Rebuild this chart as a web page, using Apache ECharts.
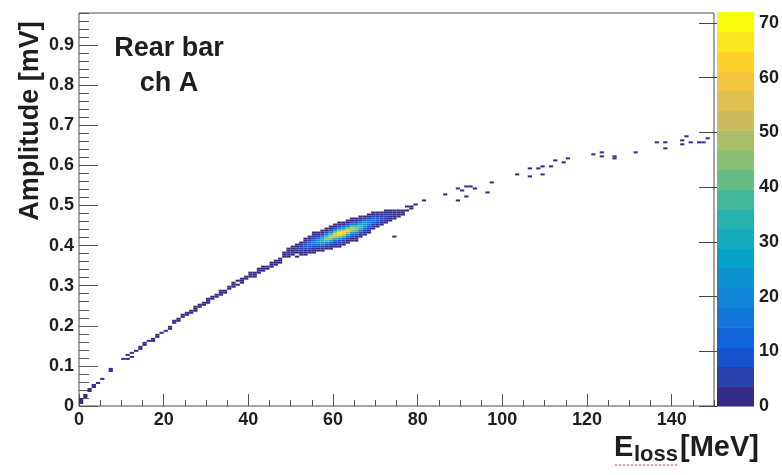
<!DOCTYPE html>
<html><head><meta charset="utf-8">
<script src="https://cdn.jsdelivr.net/npm/echarts@6/dist/echarts.min.js"></script>
<style>html,body{margin:0;padding:0;background:#fff}#c{width:782px;height:475px}</style>
</head><body><div id="c"></div>
<script>
// ---- axes ----
const X_MIN = 0, X_MAX = 150, X_MAJOR = 20, X_MINOR = 5;
const Y_MIN = 0, Y_MAX = 0.98, Y_MAJOR = 0.1, Y_MINOR = 0.02;
const Z_MAX = 72, N_CONTOURS = 20;
const zTickLabels = [0, 10, 20, 30, 40, 50, 60, 70];
const X_BIN = 1, Y_BIN = 0.005;

// ---- data: [E_loss bin lower edge (MeV), amplitude bin lower edge (mV), counts] ----
const trailCells = [
  [0,0.005,1],[0,0.010,2],[0,0.015,1],[1,0.020,1],[1,0.025,1],[2,0.035,1],[2,0.040,1],
  [3,0.045,1],[3,0.050,1],[4,0.055,1],[5,0.065,1],[7,0.085,1],[7,0.090,1],
  [10,0.115,1],[11,0.115,1],[11,0.125,1],[12,0.120,1],[12,0.130,1],[13,0.135,1],
  [14,0.140,1],[14,0.145,1],[15,0.150,1],[15,0.155,1],[16,0.160,1],[17,0.160,1],[17,0.165,1],
  [18,0.170,1],[18,0.175,1],[19,0.180,1],[20,0.185,1],[21,0.190,1],[21,0.195,1],
  [22,0.205,1],[22,0.210,1],[23,0.210,1],[23,0.215,1],[24,0.220,1],[24,0.225,1],
  [25,0.225,1],[25,0.230,1],[26,0.230,2],[26,0.235,1],[27,0.235,1],[27,0.240,1],[27,0.245,1],
  [28,0.245,1],[28,0.250,1],[29,0.250,1],[29,0.255,2],[30,0.255,1],[30,0.260,1],[30,0.265,1],
  [31,0.265,1],[31,0.270,1],[32,0.270,1],[32,0.275,1],[33,0.275,1],[33,0.280,1],[33,0.285,1],
  [34,0.280,1],[34,0.285,1],[35,0.290,1],[35,0.295,1],[36,0.295,1],[36,0.300,1],[36,0.305,1],
  [37,0.300,1],[37,0.310,1],[38,0.305,1],[38,0.310,1],[38,0.315,1],[39,0.315,1],[39,0.320,1],
  [40,0.320,1],[40,0.325,1],[40,0.330,1],[41,0.320,1],[41,0.325,1],[41,0.330,1],
  [42,0.330,1],[42,0.335,2],[42,0.340,1],[43,0.335,1],[43,0.340,1],[43,0.345,1],
  [44,0.340,1],[44,0.345,2],[45,0.345,1],[45,0.350,1],[45,0.355,1],
  [46,0.350,1],[46,0.355,2],[46,0.360,1],[47,0.355,1],[47,0.360,2],[47,0.365,1]
];

// blob: [E_loss bin, lowest amplitude bin, counts upward in 0.005 mV steps]
const blobColumns = [
  [48,0.370,[1,2,1]],
  [49,0.370,[1,2,3,1,1]],
  [50,0.375,[1,2,3,2,1]],
  [51,0.370,[1,0,2,4,5,3,1]],
  [52,0.375,[1,2,4,7,6,3,1]],
  [53,0.375,[1,1,3,6,10,8,4,1,1]],
  [54,0.380,[1,2,4,9,14,12,6,3,1]],
  [55,0.380,[1,1,3,6,11,20,17,9,4,1,1]],
  [56,0.385,[1,2,6,14,25,27,15,6,2,1]],
  [57,0.385,[1,3,7,16,28,35,30,17,7,2,1]],
  [58,0.390,[1,3,8,20,36,44,37,21,9,3,1]],
  [59,0.390,[1,1,4,11,26,45,53,41,22,9,3,1]],
  [60,0.395,[1,2,5,13,31,52,61,49,26,10,3,1]],
  [61,0.395,[1,1,4,10,24,46,64,67,44,20,7,2,1]],
  [62,0.400,[1,2,5,14,33,56,66,52,28,11,3,1]],
  [63,0.405,[1,2,5,13,31,51,60,46,24,9,3,1]],
  [64,0.410,[1,2,4,11,27,44,52,40,21,8,2,1]],
  [65,0.410,[1,1,3,8,19,36,44,38,20,8,2,1]],
  [66,0.420,[1,3,7,17,30,36,29,15,6,2,1]],
  [67,0.425,[1,2,6,13,23,28,22,11,4,1]],
  [68,0.430,[1,2,5,10,17,21,16,8,3,1]],
  [69,0.440,[1,3,7,12,15,11,6,2,1]],
  [70,0.445,[1,2,5,9,11,7,3,1]],
  [71,0.450,[1,2,4,8,6,3,1]],
  [72,0.455,[1,2,4,6,4,2,1]],
  [73,0.460,[1,1,3,4,2,1]],
  [74,0.465,[1,2,3,2,1]],
  [75,0.470,[1,2,1,1]],
  [76,0.475,[1,2,1]],
  [77,0.485,[1,0,1]],
  [78,0.490,[1,1]]
];

const tailCells = [
  [74,0.420,1],[79,0.500,1],[81,0.510,1],[86,0.525,1],[89,0.540,1],[89,0.510,1],[90,0.535,1],
  [91,0.545,1],[91,0.520,1],[92,0.545,1],[93,0.540,1],[96,0.530,1],[97,0.555,1],
  [103,0.575,1],[106,0.570,1],[106,0.590,1],[108,0.590,1],[109,0.575,1],[109,0.595,1],
  [111,0.595,1],[112,0.610,1],[114,0.605,1],[115,0.615,1],[121,0.625,1],[123,0.630,1],
  [123,0.620,1],[126,0.620,1],[126,0.615,1],[131,0.630,1],[136,0.655,1],[138,0.655,1],
  [138,0.640,1],[142,0.660,1],[142,0.650,1],[143,0.670,1],[144,0.655,1],[146,0.655,1],
  [147,0.655,1],[148,0.665,1]
];

// ---- build cell list ----
const cells = [];
trailCells.forEach(c => cells.push(c));
blobColumns.forEach(([x, y0, counts]) => {
  counts.forEach((n, k) => { if (n > 0) cells.push([x, +(y0 + k * Y_BIN).toFixed(3), n]); });
});
tailCells.forEach(c => cells.push(c));

// ---- ROOT kBird palette ----
const BIRD_S = [0,0.125,0.25,0.375,0.5,0.625,0.75,0.875,1];
const BIRD_R = [0.2082,0.0592,0.0780,0.0232,0.1802,0.5301,0.8186,0.9956,0.9764];
const BIRD_G = [0.1664,0.3599,0.5041,0.6419,0.7178,0.7492,0.7328,0.7862,0.9832];
const BIRD_B = [0.5293,0.8684,0.8385,0.7914,0.6425,0.4662,0.3499,0.1968,0.0539];
function bird(t) {
  let i = 0; while (i < BIRD_S.length - 2 && t > BIRD_S[i + 1]) i++;
  const f = (t - BIRD_S[i]) / (BIRD_S[i + 1] - BIRD_S[i]);
  const c = a => Math.round(255 * (a[i] + f * (a[i + 1] - a[i])));
  return 'rgb(' + c(BIRD_R) + ',' + c(BIRD_G) + ',' + c(BIRD_B) + ')';
}
const dz = Z_MAX / N_CONTOURS;
const bands = []; for (let i = 0; i < N_CONTOURS; i++) bands.push(i);
const bandColor = bands.map(i => bird(i / (N_CONTOURS - 1)));

const FONT = '"Liberation Sans", Arial, Helvetica, sans-serif';
const TXT = '#1e1e1e', AX = '#555';

const chart = echarts.init(document.getElementById('c'), null, { renderer: 'canvas' });
chart.setOption({
  animation: false,
  backgroundColor: '#fff',
  grid: [
    { left: 79, right: 68, top: 13, bottom: 69, show: true, borderColor: '#4a4a4a', borderWidth: 1, backgroundColor: '#fff' },
    { left: 717, right: 28, top: 12, bottom: 69, show: false }
  ],
  xAxis: [
    { gridIndex: 0, type: 'value', position: 'bottom', min: X_MIN, max: X_MAX, interval: X_MAJOR,
      axisLine: { show: false }, splitLine: { show: false },
      axisTick: { inside: true, length: 12, lineStyle: { color: AX } },
      axisLabel: { showMaxLabel: false, fontSize: 18, fontWeight: 'bold', fontFamily: FONT, color: TXT, margin: 5 } },
    { gridIndex: 0, type: 'value', position: 'bottom', min: X_MIN, max: X_MAX, interval: X_MINOR,
      axisLine: { show: false }, splitLine: { show: false }, axisLabel: { show: false },
      axisTick: { inside: true, length: 6, lineStyle: { color: AX } } },
    { gridIndex: 1, type: 'value', min: 0, max: 1, show: false }
  ],
  yAxis: [
    { gridIndex: 0, type: 'value', position: 'left', min: Y_MIN, max: Y_MAX, interval: Y_MAJOR,
      axisLine: { show: false }, splitLine: { show: false },
      axisTick: { inside: true, length: 19, lineStyle: { color: AX } },
      axisLabel: { showMaxLabel: false, fontSize: 18, fontWeight: 'bold', fontFamily: FONT, color: TXT, margin: 5 } },
    { gridIndex: 0, type: 'value', position: 'left', min: Y_MIN, max: Y_MAX, interval: Y_MINOR,
      axisLine: { show: false }, splitLine: { show: false }, axisLabel: { show: false },
      axisTick: { inside: true, length: 10, lineStyle: { color: AX } } },
    { gridIndex: 1, type: 'value', position: 'right', min: 0, max: Z_MAX,
      axisLine: { show: false }, splitLine: { show: false },
      axisTick: { inside: true, length: 18, customValues: zTickLabels, lineStyle: { color: '#444' } },
      axisLabel: { customValues: zTickLabels, fontSize: 18, fontWeight: 'bold', fontFamily: FONT, color: TXT, margin: 5 } }
  ],
  visualMap: {
    type: 'piecewise', show: false, dimension: 2, seriesIndex: 0,
    pieces: bands.map(i => ({ gte: i * dz, lt: (i + 1) * dz, color: bandColor[i] }))
  },
  series: [
    { type: 'custom', xAxisIndex: 0, yAxisIndex: 0, data: cells, clip: true,
      renderItem: (params, api) => {
        const p = api.coord([api.value(0), api.value(1) + Y_BIN]);
        const s = api.size([X_BIN, Y_BIN]);
        return { type: 'rect', shape: { x: p[0], y: p[1], width: s[0], height: s[1] },
                 style: { fill: api.visual('color') } };
      } },
    { type: 'custom', xAxisIndex: 2, yAxisIndex: 2, data: bands,
      renderItem: (params, api) => {
        const i = api.value(0);
        const p = api.coord([0, (i + 1) * dz]);
        const s = api.size([1, dz]);
        return { type: 'rect', shape: { x: p[0], y: p[1], width: s[0], height: s[1] + 0.5 },
                 style: { fill: bandColor[i] } };
      } }
  ],
  graphic: [
    { type: 'text', x: 169, y: 49, style: { text: 'Rear bar', font: 'bold 27px ' + FONT, fill: TXT, align: 'center', verticalAlign: 'middle' } },
    { type: 'text', x: 169, y: 84, style: { text: 'ch A', font: 'bold 27px ' + FONT, fill: TXT, align: 'center', verticalAlign: 'middle' } },
    { type: 'text', x: 31, y: 121, rotation: Math.PI / 2, style: { text: 'Amplitude [mV]', font: 'bold 27px ' + FONT, fill: TXT, align: 'center', verticalAlign: 'middle' } },
    { type: 'text', x: 614, y: 448, style: { text: 'E', font: 'bold 29px ' + FONT, fill: TXT, align: 'left', verticalAlign: 'middle' } },
    { type: 'text', x: 634, y: 455, style: { text: 'loss', font: 'bold 22px ' + FONT, fill: TXT, align: 'left', verticalAlign: 'middle' } },
    { type: 'text', x: 680, y: 448, style: { text: '[MeV]', font: 'bold 29px ' + FONT, fill: TXT, align: 'left', verticalAlign: 'middle' } },
    { type: 'line', shape: { x1: 615, y1: 465, x2: 678, y2: 465 }, style: { stroke: '#d04040', lineWidth: 1, lineDash: [2, 2] } }
  ]
});
</script></body></html>
